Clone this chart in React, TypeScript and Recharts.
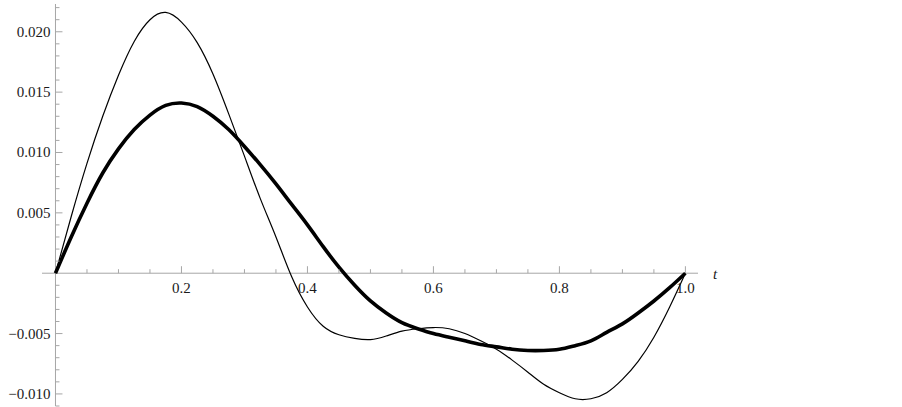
import { LineChart, Line, XAxis, YAxis, ReferenceLine } from "recharts";

// sample points along t
const T = [
  0, 0.025, 0.05, 0.075, 0.1, 0.125, 0.15, 0.175, 0.2, 0.225, 0.25, 0.275, 0.3, 0.325,
  0.35, 0.375, 0.4, 0.425, 0.45, 0.475, 0.5, 0.525, 0.55, 0.575, 0.6, 0.625, 0.65,
  0.675, 0.7, 0.725, 0.75, 0.775, 0.8, 0.825, 0.85, 0.875, 0.9, 0.925, 0.95, 0.975, 1,
];

const THIN = [
  0, 0.0047, 0.0091, 0.013, 0.0164, 0.0192, 0.021, 0.0216, 0.0208, 0.0191, 0.0165,
  0.0132, 0.0097, 0.0062, 0.003, -0.0003, -0.0028, -0.0044, -0.0051, -0.0054, -0.0055,
  -0.0052, -0.0048, -0.0046, -0.0045, -0.0046, -0.005, -0.0056, -0.0063, -0.0072,
  -0.0082, -0.0092, -0.0099, -0.0104, -0.0104, -0.0099, -0.0088, -0.0073, -0.0053,
  -0.0028, 0,
];

const THICK = [
  0, 0.003, 0.0058, 0.0083, 0.0103, 0.0119, 0.0131, 0.0139, 0.0141, 0.0138, 0.013,
  0.0119, 0.0105, 0.009, 0.0074, 0.0057, 0.004, 0.0022, 0.0005, -0.001, -0.0023,
  -0.0033, -0.0041, -0.0046, -0.005, -0.0053, -0.0056, -0.0059, -0.0061, -0.0063,
  -0.0064, -0.0064, -0.0063, -0.006, -0.0056, -0.0049, -0.0042, -0.0033, -0.0023,
  -0.0012, 0,
];

const X_MAJOR = [0.2, 0.4, 0.6, 0.8, 1.0];
const X_LABELS = ["0.2", "0.4", "0.6", "0.8", "1.0"];
const X_MINOR = [0.05, 0.1, 0.15, 0.25, 0.3, 0.35, 0.45, 0.5, 0.55, 0.65, 0.7, 0.75, 0.85, 0.9, 0.95];

const Y_MAJOR = [-0.01, -0.005, 0.005, 0.01, 0.015, 0.02];
const Y_LABELS = ["\u22120.010", "\u22120.005", "0.005", "0.010", "0.015", "0.020"];
const Y_MINOR = [
  -0.011, -0.009, -0.008, -0.007, -0.006, -0.004, -0.003, -0.002, -0.001, 0.001, 0.002,
  0.003, 0.004, 0.006, 0.007, 0.008, 0.009, 0.011, 0.012, 0.013, 0.014, 0.016, 0.017,
  0.018, 0.019, 0.021, 0.022,
];

const data = T.map((t, i) => ({ t, thin: THIN[i], thick: THICK[i] }));

const W = 902;
const H = 407;
const MARGIN = { top: 4, right: 204, bottom: 0, left: 0 };
const Y_AXIS_W = 42;
const X_AXIS_H = 1;
const X_DOMAIN: [number, number] = [-0.0214, 1.02];
const Y_DOMAIN: [number, number] = [-0.011, 0.0223];
const PLOT_W = W - MARGIN.left - MARGIN.right - Y_AXIS_W;
const PLOT_H = H - MARGIN.top - MARGIN.bottom - X_AXIS_H;
// pixel position of the axes crossing (data 0,0)
const ZERO_X = MARGIN.left + Y_AXIS_W + (PLOT_W * (0 - X_DOMAIN[0])) / (X_DOMAIN[1] - X_DOMAIN[0]);
const ZERO_Y = MARGIN.top + (PLOT_H * Y_DOMAIN[1]) / (Y_DOMAIN[1] - Y_DOMAIN[0]);

const AXIS = "#a6a6a6";
const TEXT = "#1a1a1a";
const FONT = "'Liberation Serif', 'Times New Roman', serif";

const same = (a: number, b: number) => Math.abs(a - b) < 1e-9;

const XTick = (props: any) => {
  const { x, payload } = props;
  const i = X_MAJOR.findIndex((m) => same(m, payload.value));
  const len = i >= 0 ? 7 : 4;
  return (
    <g>
      <line x1={x} x2={x} y1={ZERO_Y} y2={ZERO_Y - len} stroke={AXIS} strokeWidth={1} />
      {i >= 0 && (
        <text x={x} y={ZERO_Y + 20} textAnchor="middle" fontFamily={FONT} fontSize={15} fill={TEXT}>
          {X_LABELS[i]}
        </text>
      )}
    </g>
  );
};

const YTick = (props: any) => {
  const { y, payload } = props;
  const i = Y_MAJOR.findIndex((m) => same(m, payload.value));
  const len = i >= 0 ? 7 : 4;
  return (
    <g>
      <line x1={ZERO_X} x2={ZERO_X + len} y1={y} y2={y} stroke={AXIS} strokeWidth={1} />
      {i >= 0 && (
        <text x={ZERO_X - 5} y={y} dy={5} textAnchor="end" fontFamily={FONT} fontSize={15} fill={TEXT}>
          {Y_LABELS[i]}
        </text>
      )}
    </g>
  );
};

export default function App() {
  return (
    <div style={{ position: "absolute", left: 0, top: 0, background: "#fff" }}>
      <LineChart width={W} height={H} data={data} margin={MARGIN}>
        <XAxis
          dataKey="t"
          type="number"
          domain={X_DOMAIN}
          ticks={[...X_MINOR, ...X_MAJOR].sort((a, b) => a - b)}
          interval={0}
          height={X_AXIS_H}
          axisLine={false}
          tickLine={false}
          tickSize={0}
          tick={<XTick />}
        />
        <YAxis
          type="number"
          domain={Y_DOMAIN}
          ticks={[...Y_MINOR, ...Y_MAJOR].sort((a, b) => a - b)}
          interval={0}
          width={Y_AXIS_W}
          axisLine={false}
          tickLine={false}
          tickSize={0}
          tick={<YTick />}
        />
        <ReferenceLine
          y={0}
          stroke={AXIS}
          strokeWidth={1}
          label={{
            value: "t",
            position: "right",
            offset: 15,
            fill: TEXT,
            fontFamily: FONT,
            fontStyle: "italic",
            fontSize: 15,
          }}
        />
        <ReferenceLine x={0} stroke={AXIS} strokeWidth={1} />
        <Line
          type="natural"
          dataKey="thin"
          stroke="#000"
          strokeWidth={1.2}
          dot={false}
          isAnimationActive={false}
        />
        <Line
          type="natural"
          dataKey="thick"
          stroke="#000"
          strokeWidth={3.6}
          dot={false}
          isAnimationActive={false}
        />
      </LineChart>
    </div>
  );
}
